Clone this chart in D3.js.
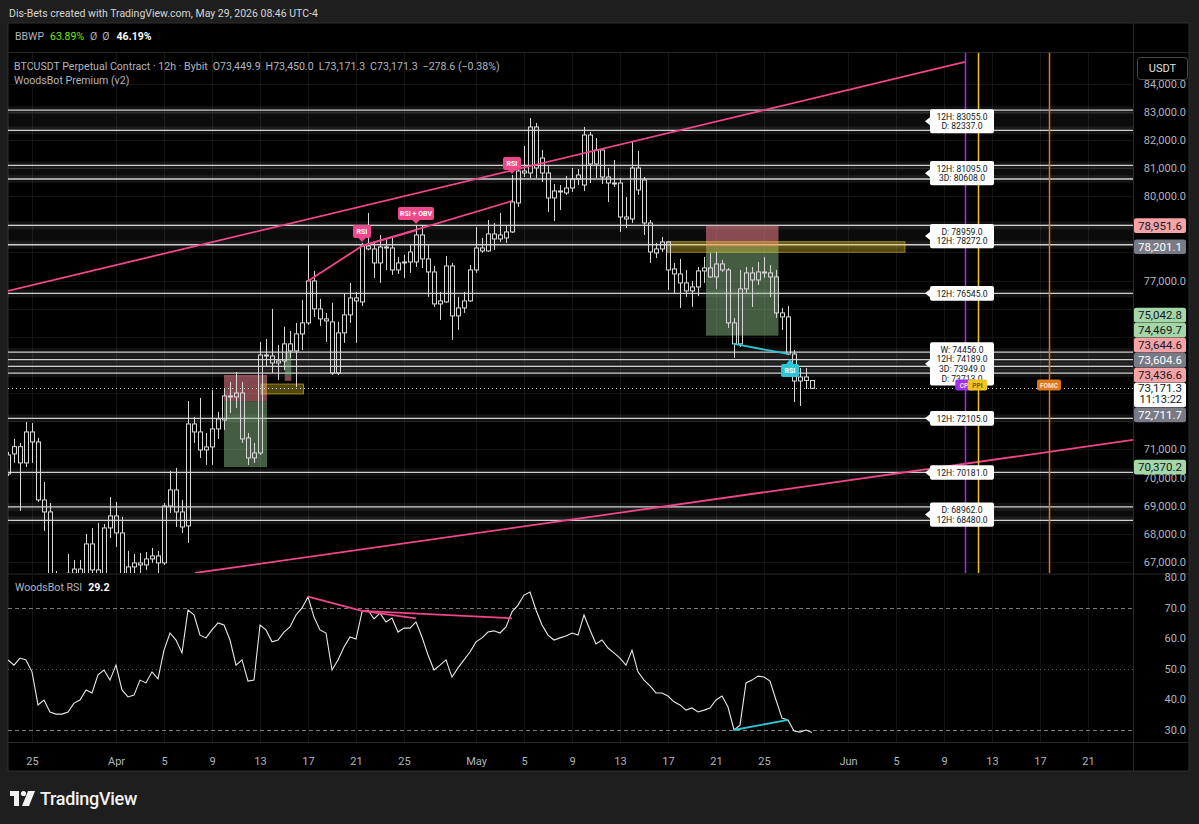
<!DOCTYPE html>
<html><head><meta charset="utf-8">
<script src="https://cdn.jsdelivr.net/npm/d3@7/dist/d3.min.js"></script>
<style>
html,body{margin:0;padding:0;background:#1e1e1e;overflow:hidden}
svg{display:block;font-family:Roboto,"Liberation Sans",sans-serif}
</style></head><body>
<svg id="chart" width="1199" height="824"></svg>
<script>
// ---------------- DATA ----------------
const firstCandleTime = "2026-03-23T00:00:00Z"; // 12h candles
const opens = [70129,70840,71099,70520,71621,71266,69205,68779,66400,66050,66300,66600,66750,66450,67642,66719,66541,68210,68637,68032,66541,66825,66967,66896,67109,67216,66967,68992,69561,68779,68281,71905,71621,70982,71088,71728,72047,72900,72864,73006,71408,70698,70875,74355,74320,74071,74142,74750,74497,75105,75496,76987,75993,75638,75531,73716,75141,75780,76383,76241,78229,78123,77626,78194,78158,77377,77626,77661,77661,78620,77768,77306,76170,76241,77519,75744,76028,76277,77377,78158,78052,78656,78478,78514,78727,79757,80893,80822,82457,81355,80822,79935,80183,80112,80290,80609,80396,82172,81142,81639,80680,80467,80467,79259,79188,81000,80574,79046,77981,78123,78372,77413,77235,76916,76632,76774,77342,77448,77129,77590,77377,75496,74750,76703,77271,77022,77306,77271,77129,75851,75709,74391,73432,73574,73449.9];
const highs = [70911,71372,71230,71976,71941,71408,69845,69098,66683,66450,67287,67074,67074,67997,68210,68388,68352,69312,69134,68601,67393,67287,67322,67358,67500,67393,69098,70236,70342,69205,72722,72154,72829,71585,73113,72332,73184,73397,73752,73397,71585,71230,74821,74928,75993,74715,75354,75212,75496,76312,78300,77342,76348,75851,76206,75531,76525,76916,76596,78336,79401,78407,78620,78478,78514,77839,77910,78265,78975,78975,78265,77519,76596,77874,77626,76419,76596,77555,78904,78514,79153,79046,79401,78975,80751,81284,81782,82776,82599,81639,81107,80432,80396,80715,81000,80964,82457,82279,82066,81711,81000,81284,80644,79970,81959,81604,80680,79153,78336,78549,78400,77626,77768,77377,76987,77484,77839,77981,78016,77732,77448,75673,77377,77484,77484,77661,77839,77555,77377,76028,76099,74533,73894,73894,73450.0];
const lows = [70058,70520,68814,70378,70520,69134,68104,65938,65654,65700,65900,66100,66000,66200,66435,66293,66364,67855,67535,66186,66293,66435,66506,66719,66967,66541,66896,68743,68246,68032,67677,71230,70698,70449,70449,71372,71692,72296,72474,71230,70449,70520,70804,73929,73716,73468,73823,74249,73219,74533,75425,75709,75389,74821,73645,73645,74786,75496,74786,76099,78080,77093,76916,77377,77200,77235,77093,77271,77484,77448,76419,76064,75602,76206,74892,75247,75851,76241,77271,77981,78016,78087,78372,78336,78691,79615,80680,80644,80644,80503,79437,79117,79508,80041,80148,80396,80183,80467,80644,80432,79792,80325,78727,78869,79046,80041,78620,77626,77803,78016,76667,76561,76028,76419,76064,76454,76916,77100,76703,77306,75318,74249,74644,76561,76064,76845,77093,76419,75673,75247,74355,72687,72545,73148,73171.3];
const closes = [70804,71099,70520,71621,71266,69205,68779,66364,66050,66300,66600,66750,66450,67642,66719,66541,68210,68637,68032,66541,66825,66967,66896,67109,67216,66967,68992,69561,68779,68246,71905,71621,70982,71088,71728,72083,72900,72864,73006,71372,70698,70875,74355,74320,74071,74142,74750,74497,75105,75496,76987,75993,75638,75567,73716,75141,75780,76383,76277,78229,78123,77626,78194,78158,77377,77626,77661,78016,78620,77768,77306,76170,76277,77519,75744,76028,76277,77377,78158,78052,78656,78478,78620,78727,79792,80893,80822,82457,81000,80822,79935,80183,80148,80290,80609,80751,82172,81142,81639,80680,80467,80432,79259,79188,81000,80219,79046,78016,78123,78372,77377,77235,76916,76632,76774,77342,77448,77129,77590,77377,75496,74750,76703,77271,77022,77306,77271,77129,75851,75709,74391,73432,73574,73450,73171.3];
const rsiValues = [52.9,51.2,53.5,52.9,49.0,38.2,39.8,35.9,35.2,35.2,35.9,38.8,39.8,43.1,42.1,48.0,49.6,46.3,51.2,43.1,40.8,41.4,46.3,45.4,49.0,46.7,56.1,61.7,59.4,55.2,69.2,67.6,61.0,60.1,62.7,65.0,64.3,59.4,51.2,52.9,46.0,46.3,64.3,62.7,58.8,59.4,62.0,63.7,67.6,69.9,73.5,66.9,62.7,61.7,49.6,52.9,57.1,60.4,59.7,68.6,69.2,66.3,68.2,65.3,66.6,62.0,63.3,63.3,65.3,60.4,54.5,49.6,51.2,52.9,47.3,50.3,52.9,55.5,58.8,60.1,62.0,62.4,61.7,63.7,68.6,70.8,74.1,75.1,69.2,64.3,61.0,59.4,60.1,60.7,61.7,61.0,67.6,62.7,58.1,59.4,56.8,55.2,53.5,51.2,56.1,49.0,46.3,44.4,42.1,42.1,41.1,39.2,38.2,36.5,37.2,35.9,36.5,37.2,39.8,41.1,37.5,30.0,31.6,45.4,46.3,47.6,47.3,46.0,39.8,33.9,33.3,29.7,29.3,30.0,29.2];

const priceTicks = [67000,68000,69000,70000,71000,72000,73000,74000,75000,76000,77000,78000,79000,80000,81000,82000,83000,84000];
const rsiTicks = [30,40,50,60,70,80];
const timeTickDates = ["2026-03-25","2026-04-01","2026-04-05","2026-04-09","2026-04-13","2026-04-17","2026-04-21","2026-04-25","2026-05-01","2026-05-05","2026-05-09","2026-05-13","2026-05-17","2026-05-21","2026-05-25","2026-06-01","2026-06-05","2026-06-09","2026-06-13","2026-06-17","2026-06-21"];
const timeTickLabels = ["25","Apr","5","9","13","17","21","25","May","5","9","13","17","21","25","Jun","5","9","13","17","21"];

// key levels
const levelNames  = ["12H","D","12H","3D","D","12H","12H","W","12H","3D","D","12H","12H","D","12H"];
const levelValues = [83055,82337,81095,80608,78959,78272,76545,74456,74189,73949,73713,72105,70181,68962,68480];
const levelGroups = [0,0,1,1,2,2,3,4,4,4,4,5,6,7,7];

// price tags on the right axis
const tagValues = [78951.6,78201.1,75042.8,74469.7,73644.6,73604.6,73436.6,72711.7,70370.2];
const tagKinds  = ["stop","entry","target","target","stop","entry","stop","entry","target"];
const lastPrice = 73171.3, countdown = "11:13:22";

// position boxes
const posStart  = ["2026-04-10T00:00:00Z","2026-04-15T01:30:00Z","2026-05-20T04:00:00Z"];
const posEnd    = ["2026-04-13T14:00:00Z","2026-04-15T14:30:00Z","2026-05-26T05:00:00Z"];
const posStop   = [73644.6,73436.6,78951.6];
const posEntry  = [72711.7,73604.6,78201.1];
const posTarget = [70370.2,74469.7,75042.8];

// order-block (yellow) zones
const zoneStart = ["2026-04-13T02:00:00Z","2026-05-16T22:00:00Z"];
const zoneEnd   = ["2026-04-16T15:00:00Z","2026-06-05T18:00:00Z"];
const zoneTop   = [73325,78381];
const zoneBot   = [72970,78005];

// trend / divergence lines on price
const lineT1 = ["2026-03-23T00:00:00Z","2026-04-07T14:00:00Z","2026-04-17T00:00:00Z","2026-04-21T12:00:00Z","2026-04-21T12:00:00Z","2026-05-22T12:00:00Z"];
const lineP1 = [76632,66610,76987,78229,78229,74750];
const lineT2 = ["2026-06-10T18:00:00Z","2026-06-24T18:00:00Z","2026-04-21T12:00:00Z","2026-04-26T00:00:00Z","2026-05-04T00:00:00Z","2026-05-27T00:00:00Z"];
const lineP2 = [84766,71337,78229,78780,79828,74391];
const lineKind = ["bear","bear","bear","bear","bear","bull"];

// divergence lines on RSI
const rsiLineT1 = ["2026-04-17T00:00:00Z","2026-04-21T12:00:00Z","2026-04-21T12:00:00Z","2026-05-22T12:00:00Z"];
const rsiLineV1 = [73.6,68.9,68.9,30.0];
const rsiLineT2 = ["2026-04-21T12:00:00Z","2026-04-26T00:00:00Z","2026-05-04T00:00:00Z","2026-05-27T00:00:00Z"];
const rsiLineV2 = [68.9,66.5,66.5,33.3];
const rsiLineKind = ["bear","bear","bear","bull"];

// signal markers (candle index from first candle)
const markerIndex = [59,68,84,130];
const markerText  = ["RSI","RSI + OBV","RSI","RSI"];
const markerKind  = ["bear","bear","bear","bull"];

// economic events
const eventTimes = ["2026-06-10T18:00:00Z","2026-06-11T19:00:00Z","2026-06-17T18:00:00Z"];
const eventNames = ["CPI","PPI","FOMC"];
const eventColors = ["#a22ff0","#f0c420","#e07818"];
const eventText = ["#f3ddff","#7a5800","#ffe3cc"];

// ---------------- LAYOUT ----------------
const svg = d3.select("#chart");
const PL = 8, PR = 1133, FR = 1189, MT = 53, MB = 573, RT = 575, RB = 742, XB = 771;
const PINK = "#f0468a", CYAN = "#2ec6d6";
const x = d3.scaleUtc().domain([new Date("2026-03-23T00:00:00Z"), new Date("2026-06-24T18:00:00Z")]).range([PL, PR]);
const y = d3.scaleLinear().domain([67000, 83000]).range([562, 111.7]);
const yr = d3.scaleLinear().domain([30, 80]).range([730, 577]);
const T = s => new Date(s);
const fmt = d3.format(",.1f");

svg.append("rect").attr("width",1199).attr("height",824).attr("fill","#1e1e1e");
svg.append("text").attr("x",9).attr("y",17).attr("fill","#d6d6d6").attr("font-size",10.5)
  .text("Dis-Bets created with TradingView.com, May 29, 2026 08:46 UTC-4");
svg.append("rect").attr("x",PL).attr("y",23).attr("width",FR-PL).attr("height",XB-23).attr("fill","#000")
  .attr("stroke","#2e2e2e");

const defs = svg.append("defs");
defs.append("clipPath").attr("id","cm").append("rect").attr("x",PL).attr("y",MT).attr("width",PR-PL).attr("height",MB-MT);
defs.append("clipPath").attr("id","cr").append("rect").attr("x",PL).attr("y",RT).attr("width",PR-PL).attr("height",RB-RT);

// separators
const sep = svg.append("g").attr("stroke","#2a2a2a").attr("stroke-width",1);
sep.append("line").attr("x1",PL).attr("x2",FR).attr("y1",52.5).attr("y2",52.5);
sep.append("line").attr("x1",PL).attr("x2",FR).attr("y1",574).attr("y2",574);
sep.append("line").attr("x1",PL).attr("x2",FR).attr("y1",742.5).attr("y2",742.5);
sep.append("line").attr("x1",PR+0.5).attr("x2",PR+0.5).attr("y1",23).attr("y2",XB);

// BBWP pane
const bb = svg.append("text").attr("x",15).attr("y",40).attr("font-size",10.5);
bb.append("tspan").attr("fill","#b2b5be").text("BBWP");
bb.append("tspan").attr("fill","#76e60a").attr("dx",6).text("63.89%");
bb.append("tspan").attr("fill","#b2b5be").attr("dx",6).text("Ø");
bb.append("tspan").attr("fill","#b2b5be").attr("dx",5).text("Ø");
bb.append("tspan").attr("fill","#ffffff").attr("font-weight","bold").attr("dx",7).text("46.19%");

// ---------------- MAIN PANE ----------------
const main = svg.append("g").attr("clip-path","url(#cm)");
const grid = main.append("g").attr("stroke","#141414");
grid.selectAll("line.v").data(timeTickDates).join("line").attr("class","v")
  .attr("x1",d=>Math.round(x(T(d)))+0.5).attr("x2",d=>Math.round(x(T(d)))+0.5).attr("y1",MT).attr("y2",MB);
grid.selectAll("line.h").data(priceTicks).join("line").attr("class","h")
  .attr("x1",PL).attr("x2",PR).attr("y1",d=>Math.round(y(d))+0.5).attr("y2",d=>Math.round(y(d))+0.5);

// level zones between paired levels
const groups = d3.groups(levelValues.map((v,i)=>({v,i,g:levelGroups[i],name:levelNames[i]})), d=>d.g);
main.append("g").selectAll("rect").data(groups.filter(g=>g[1].length>1)).join("rect")
  .attr("x",PL).attr("width",PR-PL)
  .attr("y",g=>y(d3.max(g[1],d=>d.v))).attr("height",g=>y(d3.min(g[1],d=>d.v))-y(d3.max(g[1],d=>d.v)))
  .attr("fill","rgba(255,255,255,0.045)");
main.append("g").selectAll("rect").data(levelValues).join("rect")
  .attr("x",PL).attr("width",PR-PL).attr("y",d=>y(d)-4).attr("height",8)
  .attr("fill","rgba(255,255,255,0.07)");
main.append("g").selectAll("line").data(levelValues).join("line")
  .attr("x1",PL).attr("x2",PR).attr("y1",d=>y(d)).attr("y2",d=>y(d))
  .attr("stroke","#cfcfcf").attr("stroke-width",1.3);

// position boxes
const pos = d3.range(posStart.length).map(i=>({s:T(posStart[i]),e:T(posEnd[i]),stop:posStop[i],entry:posEntry[i],target:posTarget[i]}));
const pg = main.append("g");
pg.selectAll("rect.stop").data(pos).join("rect").attr("class","stop")
  .attr("x",d=>x(d.s)).attr("width",d=>x(d.e)-x(d.s))
  .attr("y",d=>y(Math.max(d.stop,d.entry))).attr("height",d=>Math.abs(y(d.stop)-y(d.entry)))
  .attr("fill","rgba(240,130,140,0.55)");
pg.selectAll("rect.tgt").data(pos).join("rect").attr("class","tgt")
  .attr("x",d=>x(d.s)).attr("width",d=>x(d.e)-x(d.s))
  .attr("y",d=>y(Math.max(d.target,d.entry))).attr("height",d=>Math.abs(y(d.target)-y(d.entry)))
  .attr("fill","rgba(150,205,145,0.45)");

// yellow zones
main.append("g").selectAll("rect").data(d3.range(zoneStart.length)).join("rect")
  .attr("x",i=>x(T(zoneStart[i]))).attr("width",i=>x(T(zoneEnd[i]))-x(T(zoneStart[i])))
  .attr("y",i=>y(zoneTop[i])).attr("height",i=>y(zoneBot[i])-y(zoneTop[i]))
  .attr("fill","rgba(230,200,40,0.35)").attr("stroke","rgba(230,200,40,0.55)");

// candles
const t0 = Date.parse(firstCandleTime);
const candles = opens.map((o,i)=>({d:new Date(t0+i*43200000),o,h:highs[i],l:lows[i],c:closes[i]}));
const cx = d => Math.round(x(d.d));
const cg = main.append("g").attr("stroke","#d8d8d8").attr("fill","none");
cg.selectAll("line.uw").data(candles).join("line").attr("class","uw")
  .attr("x1",d=>cx(d)+0.5).attr("x2",d=>cx(d)+0.5).attr("y1",d=>y(d.h)).attr("y2",d=>y(Math.max(d.o,d.c)));
cg.selectAll("line.lw").data(candles).join("line").attr("class","lw")
  .attr("x1",d=>cx(d)+0.5).attr("x2",d=>cx(d)+0.5).attr("y1",d=>y(Math.min(d.o,d.c))).attr("y2",d=>y(d.l));
cg.selectAll("rect").data(candles).join("rect")
  .attr("x",d=>cx(d)-1.5).attr("width",4)
  .attr("y",d=>y(Math.max(d.o,d.c))).attr("height",d=>Math.max(1,y(Math.min(d.o,d.c))-y(Math.max(d.o,d.c))));

// trend lines
main.append("g").selectAll("line").data(d3.range(lineT1.length)).join("line")
  .attr("x1",i=>x(T(lineT1[i]))).attr("y1",i=>y(lineP1[i]))
  .attr("x2",i=>x(T(lineT2[i]))).attr("y2",i=>y(lineP2[i]))
  .attr("stroke",i=>lineKind[i]==="bear"?PINK:CYAN).attr("stroke-width",1.8);

// event vertical lines
main.append("g").selectAll("line").data(eventTimes).join("line")
  .attr("x1",d=>Math.round(x(T(d)))+0.5).attr("x2",d=>Math.round(x(T(d)))+0.5)
  .attr("y1",MT).attr("y2",MB).attr("stroke",(d,i)=>eventColors[i]).attr("stroke-width",1.5);

// last price dotted line
main.append("line").attr("x1",PL).attr("x2",PR).attr("y1",Math.round(y(lastPrice))+0.5).attr("y2",Math.round(y(lastPrice))+0.5)
  .attr("stroke","#e0e0e0").attr("stroke-dasharray","1,3");

// markers
const mk = main.append("g");
markerIndex.forEach((ci,j)=>{
  const c = candles[ci]; const mx = x(c.d);
  const bear = markerKind[j]==="bear";
  const w = markerText[j].length>4 ? 36 : 18, h = 13;
  const col = bear?PINK:CYAN;
  if (bear) {
    const tip = y(c.h)-1;
    mk.append("rect").attr("x",mx-w/2).attr("y",tip-4-h).attr("width",w).attr("height",h).attr("rx",2).attr("fill",col);
    mk.append("path").attr("d",`M${mx-4},${tip-4.5}L${mx+4},${tip-4.5}L${mx},${tip}Z`).attr("fill",col);
    mk.append("text").attr("x",mx).attr("y",tip-4-h/2+2.5).attr("text-anchor","middle").attr("font-size",7).attr("font-weight","bold").attr("fill","#fff").text(markerText[j]);
  } else {
    const tip = y(c.l)+4;
    mk.append("rect").attr("x",mx-w/2+2).attr("y",tip+5).attr("width",w).attr("height",h).attr("rx",2).attr("fill",col);
    mk.append("path").attr("d",`M${mx-4+2},${tip+5.5}L${mx+4+2},${tip+5.5}L${mx+2},${tip}Z`).attr("fill",col);
    mk.append("text").attr("x",mx+2).attr("y",tip+5+h/2+2.5).attr("text-anchor","middle").attr("font-size",7).attr("font-weight","bold").attr("fill","#fff").text(markerText[j]);
  }
});

// level labels
const lab = main.append("g");
groups.forEach(([g,items])=>{
  const cy = d3.mean(items,d=>y(d.v)) + (items.length>1?1:0);
  const h = items.length*9.6+5, bx = 930, bw = 64;
  const top = cy-h/2;
  lab.append("path").attr("d",`M${bx-5},${cy}L${bx},${cy-4}L${bx},${top+2}Q${bx},${top} ${bx+2},${top}L${bx+bw-2},${top}Q${bx+bw},${top} ${bx+bw},${top+2}L${bx+bw},${top+h-2}Q${bx+bw},${top+h} ${bx+bw-2},${top+h}L${bx+2},${top+h}Q${bx},${top+h} ${bx},${top+h-2}L${bx},${cy+4}Z`).attr("fill","#fff");
  items.forEach((d,k)=>{
    lab.append("text").attr("x",bx+bw/2).attr("y",top+3+9.6*k+7.6).attr("text-anchor","middle")
      .attr("font-size",8.6).attr("fill","#131722").text(`${d.name}: ${d.v.toFixed(1)}`);
  });
});

// event labels
const ev = main.append("g");
eventTimes.forEach((t,i)=>{
  const ex = x(T(t)); const w = eventNames[i].length*4.5+6;
  ev.append("rect").attr("x",ex-w/2).attr("y",379.5).attr("width",w).attr("height",11).attr("rx",2).attr("fill",eventColors[i]);
  ev.append("text").attr("x",ex).attr("y",387.5).attr("text-anchor","middle").attr("font-size",6.5).attr("font-weight","bold").attr("fill",eventText[i]).text(eventNames[i]);
});

// legend
const lg = svg.append("text").attr("x",14).attr("y",69.5).attr("font-size",10.6).attr("fill","#b2b5be");
lg.append("tspan").text("BTCUSDT Perpetual Contract · 12h · Bybit");
lg.append("tspan").attr("dx",5).text("O73,449.9");
lg.append("tspan").attr("dx",5).text("H73,450.0");
lg.append("tspan").attr("dx",5).text("L73,171.3");
lg.append("tspan").attr("dx",5).text("C73,171.3");
lg.append("tspan").attr("dx",5).text("−278.6 (−0.38%)");
svg.append("text").attr("x",14).attr("y",84).attr("font-size",10.6).attr("fill","#b2b5be").text("WoodsBot Premium (v2)");

// ---------------- TAGS (layout) ----------------
const TH = 14.6, gap = 0.4;
const curTop = y(lastPrice)-5.5, curH = 24.5;
const tags = tagValues.map((v,i)=>({v,kind:tagKinds[i],cy:y(v)}));
let prevTop = curTop;
tags.filter(t=>t.v>lastPrice).sort((a,b)=>a.v-b.v).forEach(t=>{ t.cy = Math.min(t.cy, prevTop-gap-TH/2); prevTop = t.cy-TH/2; });
let prevBot = curTop+curH;
tags.filter(t=>t.v<lastPrice).sort((a,b)=>b.v-a.v).forEach(t=>{ t.cy = Math.max(t.cy, prevBot+gap+TH/2); prevBot = t.cy+TH/2; });
const covered = p => {
  const py = y(p);
  if (py >= curTop && py <= curTop+curH) return true;
  return tags.some(t => py >= t.cy-TH/2-1 && py <= t.cy+TH/2+1);
};

// ---------------- PRICE AXIS ----------------
const pa = svg.append("g").attr("transform",`translate(${PR},0)`)
  .call(d3.axisRight(y).tickValues(priceTicks.filter(p=>!covered(p))).tickSize(0).tickFormat(fmt));
pa.select(".domain").remove();
pa.selectAll("text").attr("x",53).attr("text-anchor","end").attr("fill","#b2b5be").attr("font-size",11).attr("font-family","Roboto,sans-serif");
pa.selectAll(".tick").filter(d=>y(d)<MT+20 || y(d)>MB-4).remove();

// USDT button
svg.append("rect").attr("x",1137.5).attr("y",57.5).attr("width",50).attr("height",22).attr("rx",3).attr("fill","#000").attr("stroke","#4a4a4a");
svg.append("text").attr("x",1162.5).attr("y",72).attr("text-anchor","middle").attr("font-size",11).attr("fill","#e0e0e0").text("USDT");

// tags
const tagBg = {stop:"#f5a3a6", entry:"#787b86", target:"#a5d6a7"};
const tagFg = {stop:"#131722", entry:"#ffffff", target:"#131722"};
const tg = svg.append("g");
tg.selectAll("rect").data(tags).join("rect").attr("x",PR+1).attr("width",52).attr("y",d=>d.cy-TH/2).attr("height",TH).attr("rx",2)
  .attr("fill",d=>tagBg[d.kind]);
tg.selectAll("text").data(tags).join("text").attr("x",PR+49).attr("y",d=>d.cy+4).attr("text-anchor","end")
  .attr("font-size",11.5).attr("fill",d=>tagFg[d.kind]).text(d=>fmt(d.v));
svg.append("rect").attr("x",PR+1).attr("width",52).attr("y",curTop).attr("height",curH).attr("rx",2).attr("fill","#ffffff");
svg.append("text").attr("x",PR+49).attr("y",y(lastPrice)+4).attr("text-anchor","end").attr("font-size",11.5).attr("fill","#131722").text(fmt(lastPrice));
svg.append("text").attr("x",PR+49).attr("y",y(lastPrice)+15).attr("text-anchor","end").attr("font-size",11).attr("fill","#131722").text(countdown);

// ---------------- RSI PANE ----------------
const rp = svg.append("g").attr("clip-path","url(#cr)");
rp.append("g").attr("stroke","#141414").selectAll("line").data(timeTickDates).join("line")
  .attr("x1",d=>Math.round(x(T(d)))+0.5).attr("x2",d=>Math.round(x(T(d)))+0.5).attr("y1",RT).attr("y2",RB+6);
rp.append("line").attr("x1",PL).attr("x2",PR).attr("y1",Math.round(yr(70))+0.5).attr("y2",Math.round(yr(70))+0.5).attr("stroke","#7a7a7a").attr("stroke-dasharray","4,3");
rp.append("line").attr("x1",PL).attr("x2",PR).attr("y1",Math.round(yr(30))+0.5).attr("y2",Math.round(yr(30))+0.5).attr("stroke","#7a7a7a").attr("stroke-dasharray","4,3");
rp.append("line").attr("x1",PL).attr("x2",PR).attr("y1",Math.round(yr(50))+0.5).attr("y2",Math.round(yr(50))+0.5).attr("stroke","#5a5a5a").attr("stroke-dasharray","1,3");
rp.append("path").datum(rsiValues).attr("fill","none").attr("stroke","#e8e8e8").attr("stroke-width",1.1)
  .attr("d",d3.line().x((v,i)=>x(new Date(t0+i*43200000))).y(v=>yr(v)));
rp.append("g").selectAll("line").data(d3.range(rsiLineT1.length)).join("line")
  .attr("x1",i=>x(T(rsiLineT1[i]))).attr("y1",i=>yr(rsiLineV1[i]))
  .attr("x2",i=>x(T(rsiLineT2[i]))).attr("y2",i=>yr(rsiLineV2[i]))
  .attr("stroke",i=>rsiLineKind[i]==="bear"?PINK:CYAN).attr("stroke-width",1.8);
const rl = svg.append("text").attr("x",15).attr("y",590.5).attr("font-size",10.6);
rl.append("tspan").attr("fill","#b2b5be").text("WoodsBot RSI");
rl.append("tspan").attr("dx",6).attr("fill","#fff").attr("font-weight","bold").text(rsiValues[rsiValues.length-1].toFixed(1));
const ra = svg.append("g").attr("transform",`translate(${PR},0)`)
  .call(d3.axisRight(yr).tickValues(rsiTicks).tickSize(0).tickFormat(d3.format(".1f")));
ra.select(".domain").remove();
ra.selectAll("text").attr("x",53).attr("text-anchor","end").attr("fill","#b2b5be").attr("font-size",11).attr("font-family","Roboto,sans-serif");

// ---------------- TIME AXIS ----------------
const xa = svg.append("g").attr("transform",`translate(0,${RB})`)
  .call(d3.axisBottom(x).tickValues(timeTickDates.map(T)).tickSize(0).tickPadding(0)
    .tickFormat((d,i)=>timeTickLabels[i]));
xa.select(".domain").remove();
xa.selectAll("text").attr("y",22.5).attr("dy",0).attr("fill","#b2b5be").attr("font-size",11).attr("font-family","Roboto,sans-serif");

// ---------------- FOOTER LOGO ----------------
const logo = svg.append("g").attr("fill","#f2f2f2");
logo.append("path").attr("d","M10,791H19V806H14V796H10Z");
logo.append("circle").attr("cx",23.5).attr("cy",793.5).attr("r",2.6);
logo.append("path").attr("d","M28,791H35L29,806H22Z");
svg.append("text").attr("x",40).attr("y",805).attr("font-size",18).attr("font-weight",500).attr("fill","#f2f2f2").attr("letter-spacing",-0.3).text("TradingView");
</script></body></html>
